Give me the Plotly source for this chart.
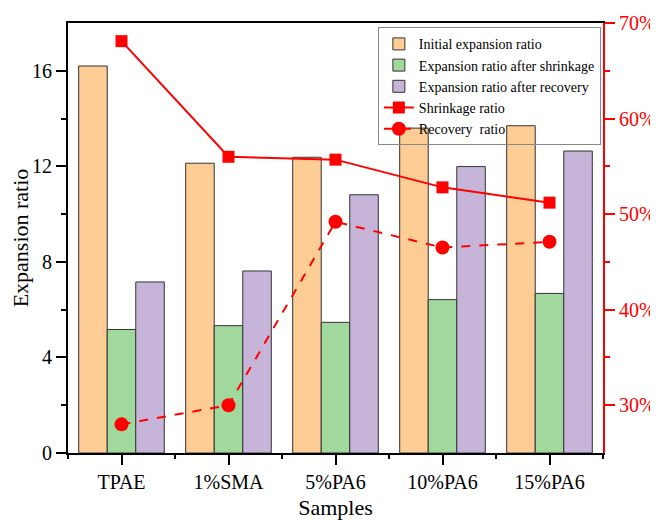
import plotly.graph_objects as go

samples = ["TPAE", "1%SMA", "5%PA6", "10%PA6", "15%PA6"]
initial_ratio = [16.2, 12.13, 12.38, 13.6, 13.7]
after_shrinkage = [5.17, 5.33, 5.47, 6.42, 6.68]
after_recovery = [7.16, 7.62, 10.81, 11.99, 12.64]
shrinkage_pct = [68.1, 56.0, 55.7, 52.8, 51.2]
recovery_pct = [28.0, 30.0, 49.2, 46.5, 47.1]

FONT = "Liberation Serif"
RED = "#FF0000"
edge = dict(color="#333333", width=1)

fig = go.Figure()
fig.add_trace(go.Bar(x=samples, y=initial_ratio, name="Initial expansion ratio",
                     marker=dict(color="#FECD95", line=edge)))
fig.add_trace(go.Bar(x=samples, y=after_shrinkage, name="Expansion ratio after shrinkage",
                     marker=dict(color="#A0D89E", line=edge)))
fig.add_trace(go.Bar(x=samples, y=after_recovery, name="Expansion ratio after recovery",
                     marker=dict(color="#C6B5D8", line=edge)))
fig.add_trace(go.Scatter(x=samples, y=shrinkage_pct, name="Shrinkage ratio", yaxis="y2",
                         mode="lines+markers", line=dict(color=RED, width=2),
                         marker=dict(symbol="square", size=12, color=RED)))
fig.add_trace(go.Scatter(x=samples, y=recovery_pct, name="Recovery  ratio", yaxis="y2",
                         mode="lines+markers", line=dict(color=RED, width=2, dash="dash"),
                         marker=dict(symbol="circle", size=14, color=RED)))
# helper trace for minor category-boundary ticks
fig.add_trace(go.Scatter(x=[-0.5, 4.5], y=[0, 0], xaxis="x2", mode="markers",
                         marker=dict(opacity=0), showlegend=False, hoverinfo="skip"))

fig.update_layout(
    width=650, height=512,
    margin=dict(l=60, r=55, t=15, b=67, autoexpand=False),
    paper_bgcolor="white", plot_bgcolor="white",
    font=dict(family=FONT, size=20, color="black"),
    barmode="group", bargap=0.2, bargroupgap=0,
    showlegend=True,
    legend=dict(x=0.996, y=0.99, xanchor="right", yanchor="top",
                font=dict(family=FONT, size=14, color="black"),
                bordercolor="#888888", borderwidth=1, bgcolor="rgba(255,255,255,0)",
                tracegroupgap=0, itemwidth=30),
    xaxis=dict(type="category", range=[-0.5, 4.5], showline=True, linecolor="black",
               linewidth=2, mirror=True, ticks="outside", ticklen=10, tickwidth=1.5,
               tickcolor="black", showgrid=False, automargin=True,
               title=dict(text="Samples", font=dict(size=22), standoff=24),
               tickfont=dict(size=20)),
    xaxis2=dict(overlaying="x", range=[-0.5, 4.5], side="bottom", anchor="y",
                tickvals=[-0.5, 0.5, 1.5, 2.5, 3.5, 4.5], ticks="outside",
                ticklen=5, tickwidth=1.5, tickcolor="black", automargin=False,
                showticklabels=False, showgrid=False, showline=False, zeroline=False),
    yaxis=dict(range=[0, 18], tickvals=[0, 4, 8, 12, 16], showline=True,
               linecolor="black", linewidth=2, ticks="outside", ticklen=10,
               tickwidth=1.5, tickcolor="black", showgrid=False, zeroline=False,
               automargin=False,
               minor=dict(tickvals=[2, 6, 10, 14], ticks="outside", ticklen=5,
                          tickwidth=1.5, tickcolor="black"),
               title=dict(text="Expansion ratio", font=dict(size=22), standoff=4),
               tickfont=dict(size=20)),
    yaxis2=dict(overlaying="y", side="right", range=[25, 70],
                tickvals=[30, 40, 50, 60, 70], ticktext=["30%", "40%", "50%", "60%", "70%"],
                showline=True, linecolor=RED, linewidth=2, ticks="outside", ticklen=10,
                tickwidth=1.5, tickcolor=RED, showgrid=False, zeroline=False,
                automargin=False,
                minor=dict(tickvals=[35, 45, 55, 65], ticks="outside", ticklen=5,
                           tickwidth=1.5, tickcolor=RED),
                tickfont=dict(size=20, color=RED)),
)

fig.write_html("out.html")
